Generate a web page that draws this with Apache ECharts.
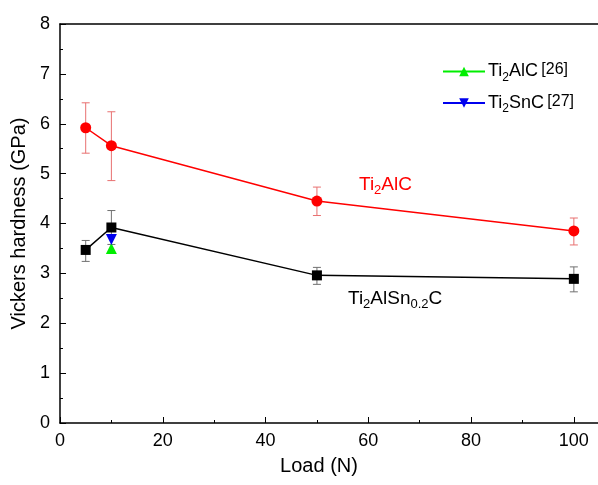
<!DOCTYPE html>
<html>
<head>
<meta charset="utf-8">
<script src="https://cdn.jsdelivr.net/npm/echarts@6/dist/echarts.min.js"></script>
<style>
  html, body { margin: 0; padding: 0; background: #fff; }
  #chart { width: 598px; height: 485px; }
</style>
</head>
<body>
<div id="chart"></div>
<script>
// 载荷 (N)
const loads = [5, 10, 50, 100];
// Ti2AlC 硬度及误差
const alcHard = [5.92, 5.56, 4.45, 3.85];
const alcLow = [5.41, 4.86, 4.16, 3.57];
const alcHigh = [6.42, 6.24, 4.73, 4.11];
// Ti2AlSn0.2C 硬度及误差
const snHard = [3.47, 3.92, 2.96, 2.89];
const snLow = [3.24, 3.58, 2.78, 2.63];
const snHigh = [3.66, 4.26, 3.12, 3.13];
// 文献值
const ref26 = [[10, 3.50]];
const ref27 = [[10, 3.68]];

const FONT = 'Liberation Sans';

function pairs(xs, ys) {
    return xs.map((x, i) => [x, ys[i]]);
}
function errData(xs, lo, hi) {
    return xs.map((x, i) => [x, lo[i], hi[i]]);
}

// 误差棒绘制
function errorSeries(data, color) {
    return {
        type: 'custom',
        data: data,
        z: 1,
        silent: true,
        renderItem: function (params, api) {
            const x = api.value(0);
            const lo = api.coord([x, api.value(1)]);
            const hi = api.coord([x, api.value(2)]);
            const half = 4;
            const style = { stroke: color, lineWidth: 1 };
            return {
                type: 'group',
                children: [
                    { type: 'line', shape: { x1: lo[0], y1: lo[1], x2: hi[0], y2: hi[1] }, style: style },
                    { type: 'line', shape: { x1: lo[0] - half, y1: lo[1], x2: lo[0] + half, y2: lo[1] }, style: style },
                    { type: 'line', shape: { x1: hi[0] - half, y1: hi[1], x2: hi[0] + half, y2: hi[1] }, style: style }
                ]
            };
        }
    };
}

const rich = {
    a: { fontFamily: FONT, fontSize: 18, color: '#000' },
    s: { fontFamily: FONT, fontSize: 12, color: '#000', padding: [12, 0, 0, 0] },
    b: { fontFamily: FONT, fontSize: 16, color: '#000', padding: [0, 0, 3, 0] }
};

const chart = echarts.init(document.getElementById('chart'));
chart.setOption({
    animation: false,
    grid: { left: 60, right: 0, top: 24, bottom: 62, outerBoundsMode: 'none', containLabel: false },
    legend: {
        left: 442,
        top: 62,
        padding: 0,
        orient: 'vertical',
        itemWidth: 42,
        itemHeight: 12,
        itemGap: 10,
        data: ['r26', 'r27'],
        formatter: function (name) {
            return name === 'r26' ? '{a|Ti}{s|2}{a|AlC} {b|[26]}' : '{a|Ti}{s|2}{a|SnC} {b|[27]}';
        },
        textStyle: { rich: rich, padding: [0, 0, 0, -2] }
    },
    xAxis: [{
        type: 'value',
        min: 0,
        max: 104.7,
        interval: 20,
        name: 'Load (N)',
        nameLocation: 'middle',
        nameGap: 33,
        nameTextStyle: { fontFamily: FONT, fontSize: 20, color: '#000', padding: [0, 20, 0, 0] },
        axisLine: { lineStyle: { color: '#000', width: 1.5 } },
        axisTick: { inside: true, length: 6, lineStyle: { color: '#000' } },
        minorTick: { show: true, splitNumber: 2, length: 3, lineStyle: { color: '#000' } },
        axisLabel: {
            fontFamily: FONT, fontSize: 18, color: '#000', margin: 9,
            formatter: function (v) { return v % 20 === 0 ? String(v) : ''; }
        },
        splitLine: { show: false }
    }, {
        type: 'value',
        position: 'top',
        min: 0,
        max: 104.7,
        axisLine: { show: true, onZero: false, lineStyle: { color: '#000', width: 1.5 } },
        axisTick: { show: false },
        axisLabel: { show: false },
        splitLine: { show: false }
    }],
    yAxis: {
        type: 'value',
        min: 0,
        max: 8,
        interval: 1,
        name: 'Vickers hardness (GPa)',
        nameLocation: 'middle',
        nameGap: 30,
        nameTextStyle: { fontFamily: FONT, fontSize: 20, color: '#000' },
        axisLine: { show: true, lineStyle: { color: '#000', width: 1.5 } },
        axisTick: { inside: true, length: 6, lineStyle: { color: '#000' } },
        minorTick: { show: true, splitNumber: 2, length: 3, lineStyle: { color: '#000' } },
        axisLabel: { fontFamily: FONT, fontSize: 18, color: '#000', margin: 10 },
        splitLine: { show: false }
    },
    series: [
        errorSeries(errData(loads, alcLow, alcHigh), '#e87070'),
        errorSeries(errData(loads, snLow, snHigh), '#707070'),
        {
            name: 'alc',
            type: 'line',
            data: pairs(loads, alcHard),
            symbol: 'circle',
            symbolSize: 11,
            itemStyle: { color: '#ff0000' },
            lineStyle: { color: '#ff0000', width: 1.5 },
            z: 3
        },
        {
            name: 'sn',
            type: 'line',
            data: pairs(loads, snHard),
            symbol: 'rect',
            symbolSize: 10,
            itemStyle: { color: '#000' },
            lineStyle: { color: '#000', width: 1.5 },
            z: 3
        },
        {
            name: 'r26',
            type: 'line',
            data: ref26,
            symbol: 'triangle',
            symbolSize: 11,
            itemStyle: { color: '#00ee00' },
            lineStyle: { color: '#00ee00', width: 1.2 },
            z: 4
        },
        {
            name: 'r27',
            type: 'line',
            data: ref27,
            symbol: 'triangle',
            symbolRotate: 180,
            symbolSize: 11,
            itemStyle: { color: '#0000ee' },
            lineStyle: { color: '#0000ee', width: 1.2 },
            z: 4
        }
    ],
    graphic: [
        {
            type: 'text', left: 359, top: 175,
            style: {
                text: '{a|Ti}{s|2}{a|AlC}',
                rich: {
                    a: { fontFamily: FONT, fontSize: 19, fill: '#ff0000' },
                    s: { fontFamily: FONT, fontSize: 13, fill: '#ff0000', padding: [12, 0, 0, 0] }
                }
            }
        },
        {
            type: 'text', left: 348, top: 289,
            style: {
                text: '{a|Ti}{s|2}{a|AlSn}{s|0.2}{a|C}',
                rich: {
                    a: { fontFamily: FONT, fontSize: 19, fill: '#000' },
                    s: { fontFamily: FONT, fontSize: 13, fill: '#000', padding: [12, 0, 0, 0] }
                }
            }
        }
    ]
});
</script>
</body>
</html>
